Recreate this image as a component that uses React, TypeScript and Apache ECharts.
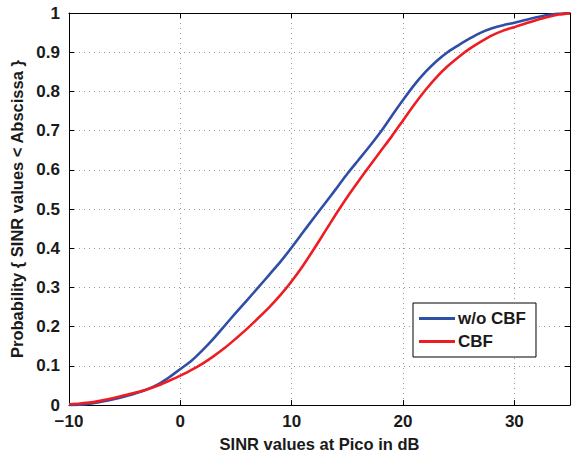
import React, { useEffect, useRef } from "react";
import * as echarts from "echarts";

const sinrX = [-10,-9,-8,-7,-6,-5,-4,-3,-2,-1,0,1,2,3,4,5,6,7,8,9,10,11,12,13,14,15,16,17,18,19,20,21,22,23,24,25,26,27,28,29,30,31,32,33,34,35];
const woCBF = [0,0.001,0.004,0.009,0.015,0.022,0.03,0.04,0.053,0.071,0.092,0.113,0.14,0.17,0.203,0.236,0.268,0.3,0.333,0.366,0.402,0.44,0.478,0.515,0.552,0.59,0.625,0.66,0.697,0.738,0.778,0.816,0.849,0.877,0.9,0.918,0.935,0.95,0.961,0.969,0.975,0.982,0.989,0.995,0.998,1];
const withCBF = [0.002,0.004,0.007,0.012,0.018,0.025,0.032,0.04,0.05,0.062,0.075,0.09,0.106,0.125,0.146,0.17,0.195,0.222,0.25,0.281,0.316,0.355,0.398,0.443,0.488,0.531,0.571,0.61,0.648,0.686,0.726,0.766,0.803,0.836,0.864,0.888,0.909,0.927,0.943,0.955,0.964,0.973,0.982,0.99,0.996,0.999];
const seriesNames = ["w/o CBF", "CBF"];

const FONT = "Liberation Sans, Arial, Helvetica, sans-serif";

export default function App() {
  const ref = useRef<HTMLDivElement>(null);
  useEffect(() => {
    if (!ref.current) return;
    document.body.style.margin = "0";
    document.body.style.overflow = "hidden";
    const chart = echarts.init(ref.current, null, { renderer: "svg" });
    const gridLine = { show: true, lineStyle: { color: "#999", type: [1, 4] as any, width: 1 } };
    const lbl = { fontFamily: FONT, fontWeight: "bold" as any, fontSize: 17, color: "#1a1a1a" };
    chart.setOption({
      animation: false,
      backgroundColor: "#fff",
      grid: { left: 65, top: 13, right: 1, bottom: 46, show: false },
      legend: {
        left: 413,
        top: 303,
        orient: "vertical",
        backgroundColor: "#fff",
        borderColor: "#000",
        borderWidth: 1,
        padding: [7, 10, 7, 6],
        itemGap: 6,
        itemWidth: 36,
        itemHeight: 3,
        icon: "rect",
        textStyle: { ...lbl, fontSize: 17, padding: [0, 0, 0, -2] },
        data: seriesNames,
      },
      xAxis: [
        {
          type: "value",
          min: -10,
          max: 35,
          interval: 10,
          name: "SINR values at Pico in dB",
          nameLocation: "middle",
          nameGap: 26,
          nameTextStyle: { fontFamily: FONT, fontWeight: "bold", fontSize: 16.5, color: "#1a1a1a" },
          axisLine: { show: true, onZero: false, lineStyle: { color: "#000", width: 1 } },
          axisTick: { show: true, inside: true, length: 5, lineStyle: { color: "#000" } },
          axisLabel: { ...lbl, margin: 8, showMaxLabel: false, formatter: (v: number) => String(v).replace("-", "\u2212") },
          splitLine: gridLine,
        },
        {
          type: "value",
          position: "top",
          min: -10,
          max: 35,
          interval: 10,
          axisLine: { show: true, onZero: false, lineStyle: { color: "#000", width: 1 } },
          axisTick: { show: true, inside: true, length: 5, lineStyle: { color: "#000" } },
          axisLabel: { show: false },
          splitLine: { show: false },
        },
      ],
      yAxis: [
        {
          type: "value",
          min: 0,
          max: 1,
          interval: 0.1,
          name: "Probability { SINR values < Abscissa }",
          nameLocation: "middle",
          nameGap: 44,
          nameTextStyle: { fontFamily: FONT, fontWeight: "bold", fontSize: 16.5, color: "#1a1a1a" },
          axisLine: { show: true, onZero: false, lineStyle: { color: "#000", width: 1 } },
          axisTick: { show: true, inside: true, length: 5, lineStyle: { color: "#000" } },
          axisLabel: { ...lbl, margin: 9, formatter: (v: number) => (v === 0 || v === 1 ? String(v) : v.toFixed(1)) },
          splitLine: gridLine,
        },
        {
          type: "value",
          position: "right",
          min: 0,
          max: 1,
          interval: 0.1,
          axisLine: { show: true, onZero: false, lineStyle: { color: "#000", width: 1 } },
          axisTick: { show: true, inside: true, length: 5, lineStyle: { color: "#000" } },
          axisLabel: { show: false },
          splitLine: { show: false },
        },
      ],
      series: [
        {
          name: seriesNames[0],
          type: "line",
          data: sinrX.map((x, i) => [x, woCBF[i]]),
          showSymbol: false,
          smooth: 0.25,
          lineStyle: { color: "#2f4ea6", width: 2.6 },
          itemStyle: { color: "#2f4ea6" },
          z: 3,
        },
        {
          name: seriesNames[1],
          type: "line",
          data: sinrX.map((x, i) => [x, withCBF[i]]),
          showSymbol: false,
          smooth: 0.25,
          lineStyle: { color: "#ee1d24", width: 2.6 },
          itemStyle: { color: "#ee1d24" },
          z: 4,
        },
      ],
    });
    return () => chart.dispose();
  }, []);
  return <div ref={ref} style={{ position: "fixed", left: 0, top: 0, width: 571, height: 457 }} />;
}
